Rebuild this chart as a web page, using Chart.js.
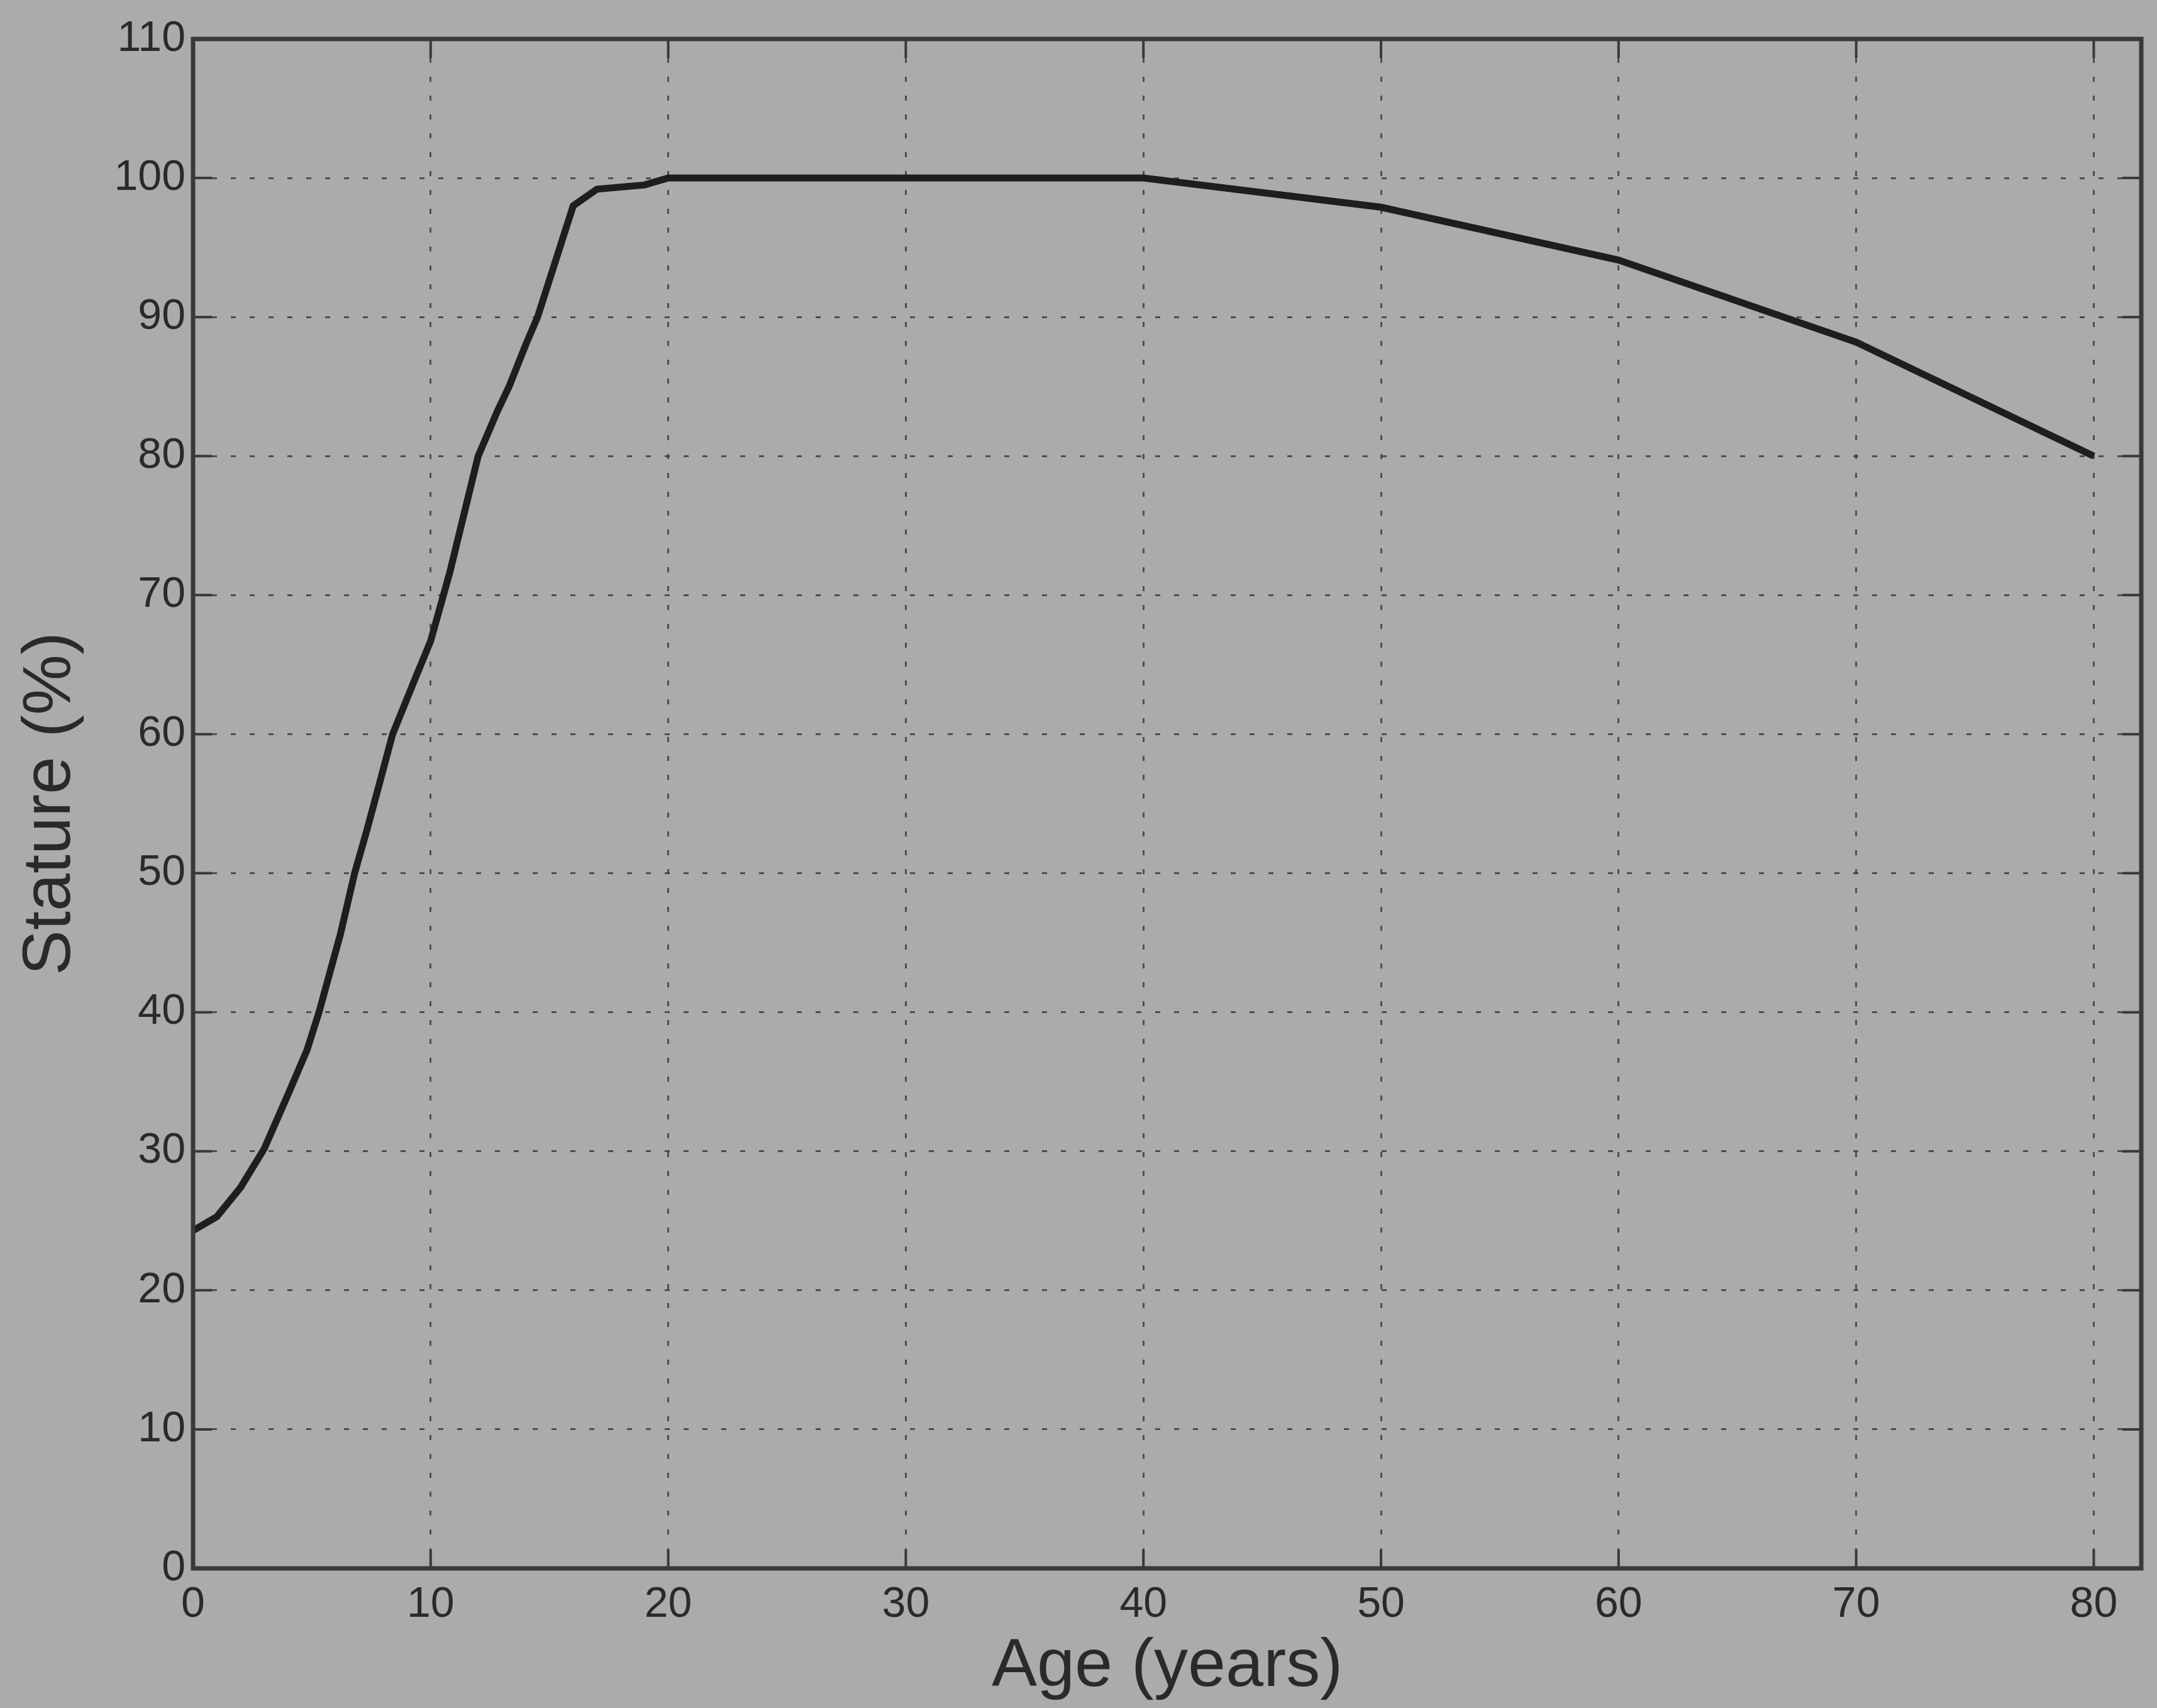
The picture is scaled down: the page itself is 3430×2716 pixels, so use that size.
<!DOCTYPE html>
<html>
<head>
<meta charset="utf-8">
<script src="https://cdn.jsdelivr.net/npm/chart.js@4.4.1/dist/chart.umd.min.js"></script>
<style>
  html, body { margin: 0; padding: 0; background: #aaacab; }
  #wrap { width: 3430px; height: 2716px; }
</style>
</head>
<body>
<div id="wrap"><canvas id="myChart" width="3430" height="2716"></canvas></div>
<script>
// stature as % of adult height
const ages = [0, 1, 2, 3, 4, 4.8, 5.3, 6.2, 6.8, 7.3, 7.9, 8.4, 9.3, 10, 10.8, 11.5, 12, 12.8, 13.3, 14, 14.5, 16, 17, 19, 20, 30, 40, 50, 60, 70, 80];
const stature = [24.3, 25.3, 27.4, 30.2, 34.1, 37.3, 40, 45.6, 50, 53, 56.8, 60, 63.8, 66.7, 71.6, 76.5, 80, 83.2, 85, 88, 90, 98, 99.2, 99.5, 100, 100, 100, 97.9, 94.1, 88.2, 80];

const xTicks = [0, 10, 20, 30, 40, 50, 60, 70, 80];
const yTicks = [0, 10, 20, 30, 40, 50, 60, 70, 80, 90, 100, 110];

const points = ages.map((a, i) => ({ x: a, y: stature[i] }));

const bgPlugin = {
    id: 'bg',
    beforeDraw(chart) {
        const c = chart.ctx;
        c.save();
        c.fillStyle = '#aaacab';
        c.fillRect(0, 0, chart.width, chart.height);
        c.restore();
    }
};

// matlab style box with inward ticks on all sides
const boxPlugin = {
    id: 'box',
    afterDraw(chart) {
        const c = chart.ctx;
        const a = chart.chartArea;
        const xs = chart.scales.x, ys = chart.scales.y;
        const len = 30;
        c.save();
        c.strokeStyle = '#3a3838';
        c.lineWidth = 4;
        c.beginPath();
        xTicks.forEach(v => {
            const px = xs.getPixelForValue(v);
            c.moveTo(px, a.bottom); c.lineTo(px, a.bottom - len);
            c.moveTo(px, a.top); c.lineTo(px, a.top + len);
        });
        yTicks.forEach(v => {
            const py = ys.getPixelForValue(v);
            c.moveTo(a.left, py); c.lineTo(a.left + len, py);
            c.moveTo(a.right, py); c.lineTo(a.right - len, py);
        });
        c.stroke();
        c.lineWidth = 7;
        c.strokeRect(a.left, a.top, a.right - a.left, a.bottom - a.top);
        c.restore();
    }
};

const tickFont = { family: 'Liberation Sans', size: 68 };
const titleFont = { family: 'Liberation Sans', size: 108 };

new Chart(document.getElementById('myChart'), {
    type: 'line',
    data: {
        datasets: [{
            data: points,
            borderColor: '#1f1d1d',
            borderWidth: 11,
            pointRadius: 0,
            tension: 0,
            fill: false
        }]
    },
    plugins: [bgPlugin, boxPlugin],
    options: {
        responsive: false,
        animation: false,
        layout: { padding: { top: 62, right: 25, left: 0, bottom: 0 } },
        plugins: {
            legend: { display: false },
            tooltip: { enabled: false }
        },
        scales: {
            x: {
                type: 'linear',
                min: 0,
                max: 82,
                afterFit: (s) => { s.height = 222; },
                afterBuildTicks: (s) => { s.ticks = xTicks.map(v => ({ value: v })); },
                ticks: { stepSize: 10, includeBounds: false, padding: 17, color: '#2a2a2a', font: tickFont, maxRotation: 0 },
                grid: { color: 'rgba(55,55,55,0.8)', lineWidth: 3, drawTicks: false },
                border: { display: false, dash: [8, 22] },
                title: { display: true, text: 'Age (years)', color: '#2a2a2a', font: titleFont, padding: { top: 0, bottom: 0 } }
            },
            y: {
                min: 0,
                max: 110,
                afterFit: (s) => { s.width = 307; },
                afterBuildTicks: (s) => { s.ticks = yTicks.map(v => ({ value: v })); },
                ticks: { stepSize: 10, padding: 12, color: '#2a2a2a', font: tickFont },
                grid: { color: 'rgba(55,55,55,0.8)', lineWidth: 3, drawTicks: false },
                border: { display: false, dash: [8, 22] },
                title: { display: true, text: 'Stature (%)', color: '#2a2a2a', font: titleFont, padding: { top: 16, bottom: 0 } }
            }
        }
    }
});
</script>
</body>
</html>
